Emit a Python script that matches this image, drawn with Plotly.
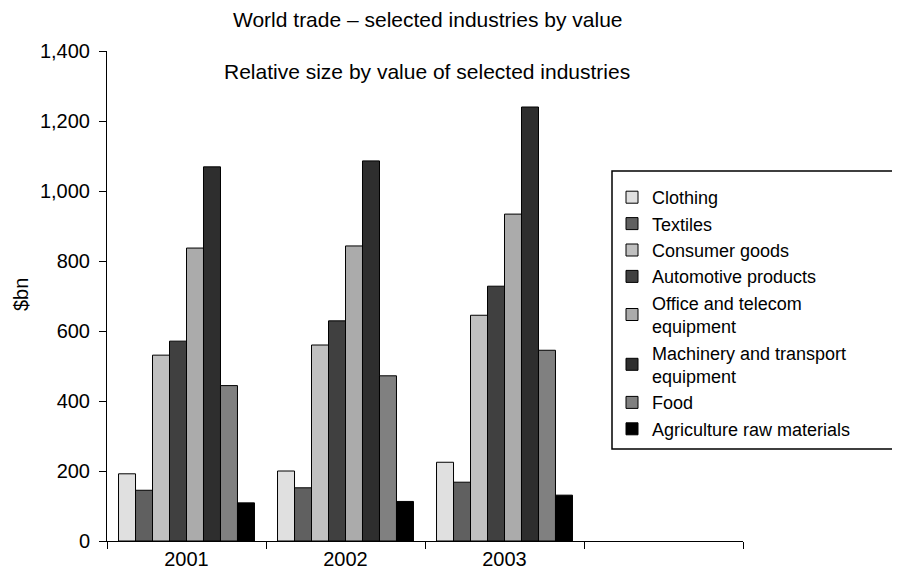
import plotly.graph_objects as go

# Years shown on the x axis (a fourth, empty slot follows 2003)
years = ['2001', '2002', '2003']
slots = ['2001', '2002', '2003', ' ']

# Trade value by industry, $bn
industries = [
    'Clothing',
    'Textiles',
    'Consumer goods',
    'Automotive products',
    'Office and telecom<br>equipment',
    'Machinery and transport<br>equipment',
    'Food',
    'Agriculture raw materials',
]
clothing = [192, 200, 225]
textiles = [145, 152, 168]
consumer_goods = [531, 560, 645]
automotive = [571, 629, 728]
office_telecom = [837, 843, 934]
machinery = [1069, 1086, 1240]
food = [444, 472, 545]
agriculture = [109, 113, 131]

values = [clothing, textiles, consumer_goods, automotive,
          office_telecom, machinery, food, agriculture]
colors = ['#e0e0e0', '#606060', '#c0c0c0', '#404040',
          '#ababab', '#2e2e2e', '#808080', '#000000']

FONT = 'Liberation Sans, Arial, sans-serif'

# plot area on screen: x 107..743, y 51..541 (page body adds an 8px offset)
PW, PH = 636, 490


def px_x(p):
    return (p - 107) / PW


def px_y(p):
    return (541 - p) / PH


fig = go.Figure()
for name, vals, col in zip(industries, values, colors):
    fig.add_trace(go.Bar(
        x=years, y=vals, name=name,
        marker=dict(color=col, line=dict(color='black', width=1)),
    ))

# legend frame: open on the right, it runs off the edge of the picture
lx0, lx1 = px_x(612), px_x(940)
ly0, ly1 = px_y(449), px_y(171)
legend_frame = f'M {lx1},{ly0} L {lx0},{ly0} L {lx0},{ly1} L {lx1},{ly1}'

fig.update_layout(
    width=900, height=578,
    margin=dict(l=99, r=165, t=43, b=45, autoexpand=False),
    paper_bgcolor='white', plot_bgcolor='white',
    font=dict(family=FONT, size=20, color='black'),
    barmode='group', bargap=0.145, bargroupgap=0,
    showlegend=True,
    legend=dict(
        x=px_x(612), xanchor='left',
        y=px_y(179), yanchor='top',
        font=dict(size=18),
        bgcolor='rgba(0,0,0,0)', borderwidth=0,
        tracegroupgap=0,
    ),
    xaxis=dict(
        type='category', categoryorder='array', categoryarray=slots,
        range=[-0.5, 3.5],
        tickson='boundaries', ticks='outside', ticklen=7, tickcolor='black',
        showline=True, linecolor='black', linewidth=1,
        showgrid=False, zeroline=False,
        tickfont=dict(size=20),
    ),
    yaxis=dict(
        range=[0, 1400], dtick=200, tickformat=',',
        ticks='outside', ticklen=7, tickcolor='black',
        showline=True, linecolor='black', linewidth=1,
        showgrid=False, zeroline=False,
        tickfont=dict(size=20), ticklabelstandoff=5,
    ),
    annotations=[
        dict(text='World trade \u2013 selected industries by value',
             xref='paper', yref='paper', x=px_x(427), y=px_y(19),
             xanchor='center', yanchor='middle', showarrow=False,
             font=dict(size=21)),
        dict(text='Relative size by value of selected industries',
             xref='paper', yref='paper', x=px_x(427), y=px_y(71),
             xanchor='center', yanchor='middle', showarrow=False,
             font=dict(size=21)),
        dict(text='$bn', textangle=-90,
             xref='paper', yref='paper', x=px_x(21), y=px_y(295),
             xanchor='center', yanchor='middle', showarrow=False,
             font=dict(size=20)),
    ],
    shapes=[
        dict(type='path', xref='paper', yref='paper', path=legend_frame,
             line=dict(color='black', width=1.5)),
    ],
)

fig.write_html('out.html')
